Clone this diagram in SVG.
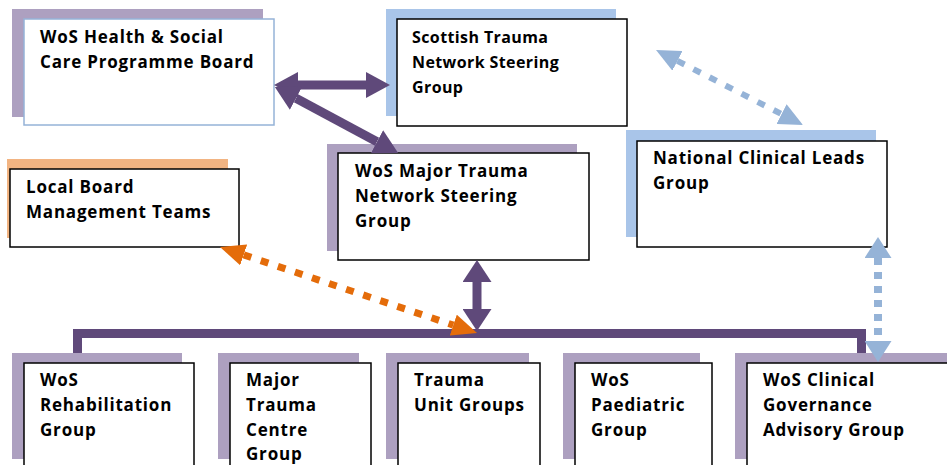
<svg xmlns="http://www.w3.org/2000/svg" width="947" height="465" viewBox="0 0 947 465">
<style>
.sp{fill:#ada0c0}
.sb{fill:#a9c5e9}
.so{fill:#f2b482}
.bx{fill:#fff;stroke:#000;stroke-width:1.5}
.bl{fill:#fff;stroke:#95b3d7;stroke-width:1.5}
text{font-family:"Open Sans","Liberation Sans",sans-serif;font-weight:bold;font-size:17px;letter-spacing:0.8px;fill:#000}
text.sm{font-size:16px;letter-spacing:0.4px}
.pu{stroke:#5f497a;stroke-width:9;fill:none}
.or{stroke:#e46c0a;stroke-width:7;stroke-dasharray:8 10;fill:none}
.lb{stroke:#95b3d7;stroke-width:6;stroke-dasharray:8 10;fill:none}
.lbv{stroke:#95b3d7;stroke-width:8;stroke-dasharray:7 7;fill:none}
</style>
<defs>
<marker id="mp" markerUnits="userSpaceOnUse" viewBox="0 0 24 26" refX="0" refY="13" markerWidth="24" markerHeight="26" orient="auto-start-reverse"><path d="M0,0 L24,13 L0,26 z" fill="#5f497a"/></marker>
<marker id="mpv" markerUnits="userSpaceOnUse" viewBox="0 0 22 29" refX="0" refY="14.5" markerWidth="22" markerHeight="29" orient="auto-start-reverse"><path d="M0,0 L22,14.5 L0,29 z" fill="#5f497a"/></marker>
<marker id="mo" markerUnits="userSpaceOnUse" viewBox="0 0 25 22" refX="0" refY="11" markerWidth="25" markerHeight="22" orient="auto-start-reverse"><path d="M0,0 L25,11 L0,22 z" fill="#e46c0a"/></marker>
<marker id="mb" markerUnits="userSpaceOnUse" viewBox="0 0 24 22" refX="0" refY="11" markerWidth="24" markerHeight="22" orient="auto-start-reverse"><path d="M0,0 L24,11 L0,22 z" fill="#95b3d7"/></marker>
<marker id="mbv" markerUnits="userSpaceOnUse" viewBox="0 0 21 27" refX="0" refY="13.5" markerWidth="21" markerHeight="27" orient="auto-start-reverse"><path d="M0,0 L21,13.5 L0,27 z" fill="#95b3d7"/></marker>
</defs>

<g id="node-wos-hsc">
<rect class="sp" x="12" y="9" width="251" height="108"/>
<rect class="bl" x="24" y="19" width="250" height="106"/>
<text x="40" y="43">WoS Health &amp; Social</text>
<text x="40" y="68">Care Programme Board</text>
</g>
<g id="node-scottish">
<rect class="sb" x="386" y="9" width="230" height="107"/>
<rect class="bx" x="397" y="19" width="230" height="107"/>
<text class="sm" x="412" y="43">Scottish Trauma</text>
<text class="sm" x="412" y="68">Network Steering</text>
<text class="sm" x="412" y="93">Group</text>
</g>
<g id="node-local">
<rect class="so" x="7" y="159" width="221" height="79"/>
<rect class="bx" x="10" y="169" width="229" height="78"/>
<text x="26" y="193">Local Board</text>
<text x="26" y="218">Management Teams</text>
</g>
<g id="node-wos-mt">
<rect class="sp" x="327" y="144" width="250" height="107"/>
<rect class="bx" x="338" y="153" width="251" height="107"/>
<text x="355" y="177">WoS Major Trauma</text>
<text x="355" y="202">Network Steering</text>
<text x="355" y="227">Group</text>
</g>
<g id="node-national">
<rect class="sb" x="626" y="130" width="250" height="107"/>
<rect class="bx" x="637" y="141" width="250" height="106"/>
<text x="653" y="164">National Clinical Leads</text>
<text x="653" y="189">Group</text>
</g>
<g id="node-rehab">
<rect class="sp" x="12" y="353" width="170" height="106"/>
<rect class="bx" x="24" y="363" width="170" height="110"/>
<text x="40" y="386">WoS</text>
<text x="40" y="411">Rehabilitation</text>
<text x="40" y="436">Group</text>
</g>
<g id="node-mtc">
<rect class="sp" x="218" y="353" width="141" height="106"/>
<rect class="bx" x="230" y="363" width="141" height="110"/>
<text x="246" y="386">Major</text>
<text x="246" y="411">Trauma</text>
<text x="246" y="436">Centre</text>
<text x="246" y="460">Group</text>
</g>
<g id="node-tu">
<rect class="sp" x="386" y="353" width="143" height="106"/>
<rect class="bx" x="398" y="363" width="142" height="110"/>
<text x="414" y="386">Trauma</text>
<text x="414" y="411">Unit Groups</text>
</g>
<g id="node-paed">
<rect class="sp" x="563" y="353" width="137" height="106"/>
<rect class="bx" x="575" y="363" width="137" height="110"/>
<text x="591" y="386">WoS</text>
<text x="591" y="411">Paediatric</text>
<text x="591" y="436">Group</text>
</g>
<g id="node-cgag">
<rect class="sp" x="735" y="353" width="220" height="106"/>
<rect class="bx" x="747" y="363" width="220" height="110"/>
<text x="763" y="386">WoS Clinical</text>
<text x="763" y="411">Governance</text>
<text x="763" y="436">Advisory Group</text>
</g>

<g id="connectors">
<path class="pu" d="M77.5,353 V333.5 H861.5 V353"/>
<line class="pu" x1="298" y1="85" x2="366" y2="85" marker-start="url(#mp)" marker-end="url(#mp)"/>
<line class="pu" x1="296" y1="98.3" x2="377" y2="141.7" marker-start="url(#mp)" marker-end="url(#mp)"/>
<line class="or" x1="243.7" y1="254.9" x2="453.3" y2="325.1" marker-start="url(#mo)" marker-end="url(#mo)"/>
<line class="pu" x1="477" y1="282" x2="477" y2="309" marker-start="url(#mpv)" marker-end="url(#mpv)"/>
<line class="lb" x1="677.4" y1="60.9" x2="781.6" y2="114.1" marker-start="url(#mb)" marker-end="url(#mb)"/>
<line class="lbv" x1="878" y1="258" x2="878" y2="341" marker-start="url(#mbv)" marker-end="url(#mbv)"/>
</g>
</svg>
